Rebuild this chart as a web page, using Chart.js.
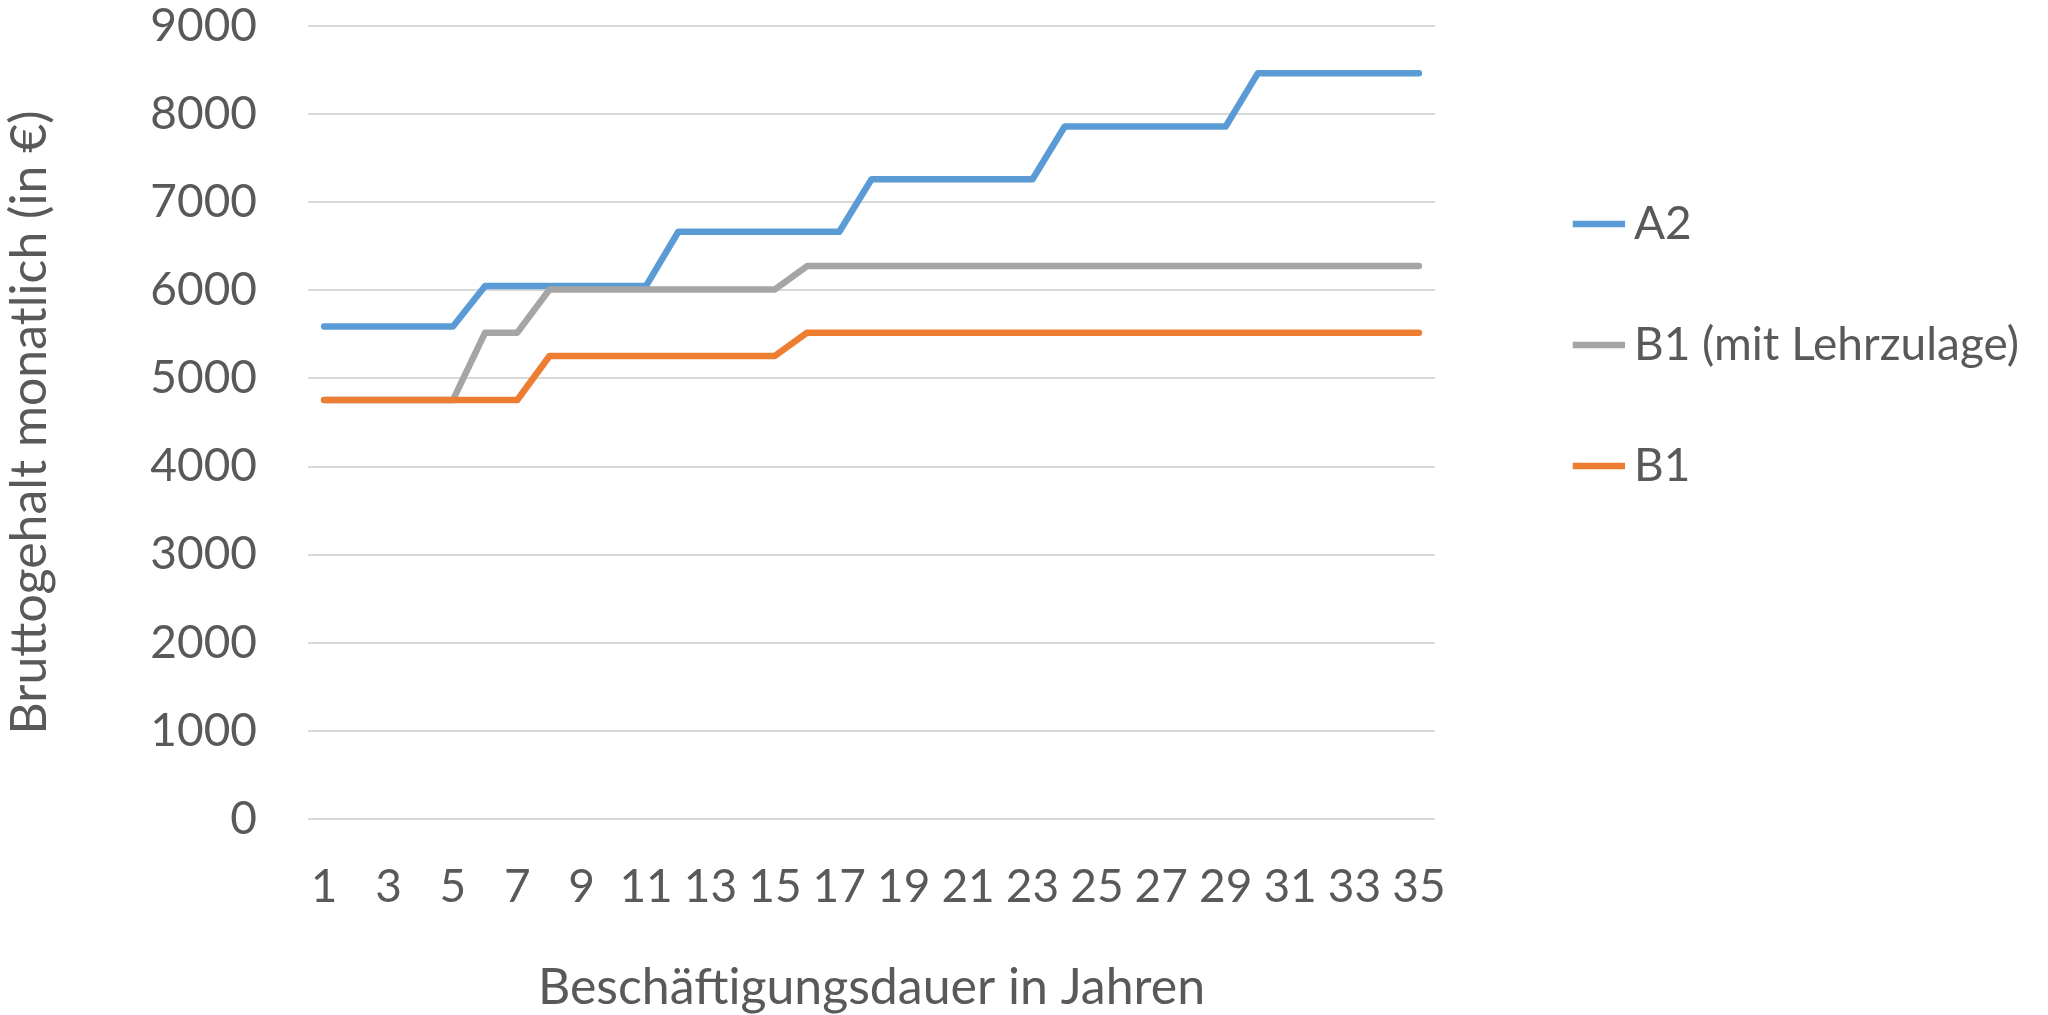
<!DOCTYPE html>
<html lang="de">
<head>
    <meta charset="UTF-8">
    <title>Bruttogehalt nach Beschäftigungsdauer</title>
    <script src="https://cdn.jsdelivr.net/npm/chart.js"></script>
    <style>
        html, body { margin: 0; padding: 0; background: #fff; }
        #wrap { width: 2048px; height: 1015px; }
    </style>
</head>
<body>
    <div id="wrap"><canvas id="myChart"></canvas></div>

    <script>
        // Beschäftigungsjahre 1..35
        const years = ['1','2','3','4','5','6','7','8','9','10','11','12','13','14','15','16','17','18',
                       '19','20','21','22','23','24','25','26','27','28','29','30','31','32','33','34','35'];

        const a2 = [5590, 5590, 5590, 5590, 5590,
                    6050, 6050, 6050, 6050, 6050, 6050,
                    6665, 6665, 6665, 6665, 6665, 6665,
                    7260, 7260, 7260, 7260, 7260, 7260,
                    7860, 7860, 7860, 7860, 7860, 7860,
                    8465, 8465, 8465, 8465, 8465, 8465];

        const b1Lehr = [4755, 4755, 4755, 4755, 4755,
                        5520, 5520,
                        6010, 6010, 6010, 6010, 6010, 6010, 6010, 6010,
                        6275, 6275, 6275, 6275, 6275, 6275, 6275, 6275, 6275, 6275,
                        6275, 6275, 6275, 6275, 6275, 6275, 6275, 6275, 6275, 6275];

        const b1 = [4755, 4755, 4755, 4755, 4755, 4755, 4755,
                    5255, 5255, 5255, 5255, 5255, 5255, 5255, 5255,
                    5520, 5520, 5520, 5520, 5520, 5520, 5520, 5520, 5520, 5520,
                    5520, 5520, 5520, 5520, 5520, 5520, 5520, 5520, 5520, 5520];

        const seriesNames = ['A2', 'B1 (mit Lehrzulage)', 'B1'];
        const yTicks = [0, 1000, 2000, 3000, 4000, 5000, 6000, 7000, 8000, 9000];

        const txt = '#595959';
        const fontFam = 'Lato, "Open Sans", sans-serif';
        const legendSize = 46, legendPad = 75, legendBox = 24;
        const plotRight = 1435, padRight = 19;

        function line(label, data, color, order) {
            return {
                label: label,
                data: data,
                borderColor: color,
                backgroundColor: color,
                borderWidth: 6.5,
                borderCapStyle: 'round',
                borderJoinStyle: 'round',
                pointRadius: 0,
                pointHoverRadius: 0,
                tension: 0,
                fill: false,
                order: order
            };
        }

        // Breite der Legende, damit der Plot rechts bei plotRight endet
        function legendWidth(c) {
            c.save();
            c.font = legendSize + 'px ' + fontFam;
            const w = Math.max(...seriesNames.map(n => c.measureText(n).width));
            c.restore();
            return 10 + legendPad + legendBox + legendSize / 2 + w;
        }

        const ctx = document.getElementById('myChart').getContext('2d');
        const myChart = new Chart(ctx, {
            type: 'line',
            data: {
                labels: years,
                datasets: [
                    line(seriesNames[0], a2, '#5B9BD5', 3),
                    line(seriesNames[1], b1Lehr, '#A5A5A5', 2),
                    line(seriesNames[2], b1, '#ED7D31', 1)
                ]
            },
            options: {
                responsive: true,
                maintainAspectRatio: false,
                animation: false,
                layout: { padding: { top: 0, left: 0, bottom: 0, right: padRight } },
                plugins: {
                    tooltip: { enabled: false },
                    legend: {
                        position: 'right',
                        align: 'start',
                        maxWidth: 700,
                        title: { display: true, text: '', font: { size: 10, lineHeight: 1 }, padding: 58 },
                        labels: {
                            usePointStyle: true,
                            pointStyle: 'line',
                            boxWidth: legendBox,
                            boxHeight: 37,
                            padding: legendPad,
                            color: txt,
                            font: { family: fontFam, size: legendSize },
                            sort: (a, b) => a.datasetIndex - b.datasetIndex
                        }
                    }
                },
                scales: {
                    x: {
                        offset: true,
                        grid: { display: false },
                        border: { display: false },
                        ticks: {
                            autoSkip: false,
                            maxRotation: 0,
                            padding: 33,
                            color: txt,
                            font: { family: fontFam, size: 46 },
                            callback: function (v, i) { return i % 2 === 0 ? years[i] : ''; }
                        },
                        title: {
                            display: true,
                            text: 'Beschäftigungsdauer in Jahren',
                            color: txt,
                            font: { family: fontFam, size: 50, lineHeight: 1 },
                            padding: { top: 0, bottom: 2 }
                        },
                        afterFit: function (s) { s.height = 196; }
                    },
                    y: {
                        min: 0,
                        max: 9000,
                        afterBuildTicks: function (s) { s.ticks = yTicks.map(v => ({ value: v })); },
                        grid: { color: '#D9D9D9', lineWidth: 2, drawTicks: false },
                        border: { display: false },
                        ticks: {
                            padding: 51,
                            color: txt,
                            font: { family: fontFam, size: 46, lineHeight: 1.1 },
                            callback: function (v) { return String(v); }
                        },
                        title: {
                            display: true,
                            text: 'Bruttogehalt monatlich (in €)',
                            color: txt,
                            font: { family: fontFam, size: 50, lineHeight: 1 },
                            padding: { top: 5, bottom: 0 }
                        },
                        afterFit: function (s) {
                            s.width = 308;
                            s.paddingTop = 26;
                            s.paddingBottom = 0;
                        }
                    },
                    // leerer Abstand zwischen Plot und Legende
                    spacer: {
                        type: 'linear',
                        position: 'right',
                        grid: { display: false },
                        border: { display: false },
                        ticks: { display: false },
                        afterFit: function (s) {
                            s.width = Math.max(0, s.chart.width - padRight - plotRight - legendWidth(s.ctx));
                        }
                    }
                }
            }
        });
    </script>
</body>
</html>
